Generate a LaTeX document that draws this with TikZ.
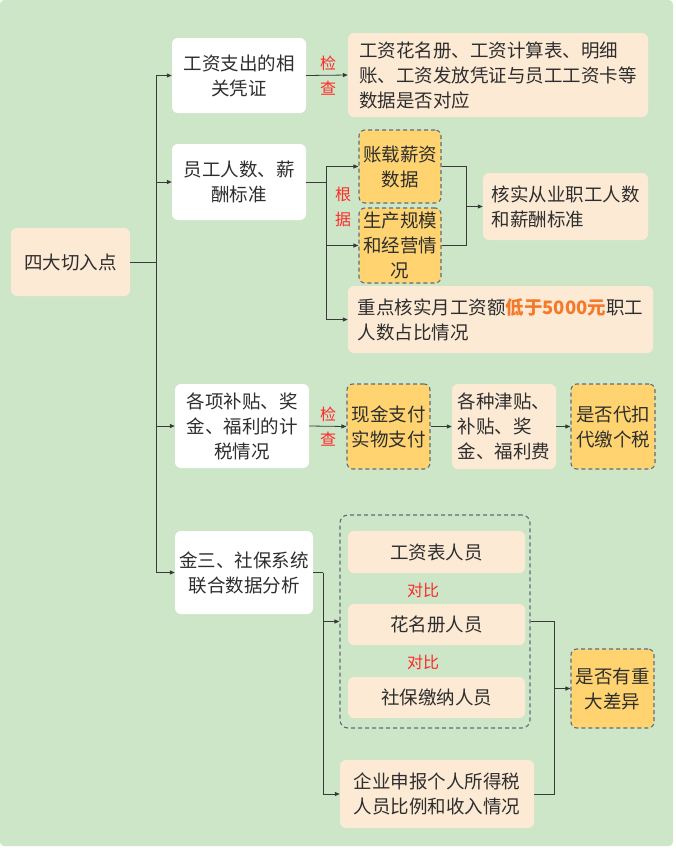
\documentclass[tikz,border=0pt]{standalone}
\usepackage{fontspec}
\setmainfont{Noto Sans CJK SC}
\usetikzlibrary{arrows.meta,calc}
\definecolor{bg}{HTML}{CDE6C7}
\definecolor{peach}{HTML}{FDEAD5}
\definecolor{orangebox}{HTML}{FFD470}
\definecolor{dashc}{HTML}{5A6E80}
\definecolor{txt}{HTML}{2E2E2E}
\definecolor{lred}{HTML}{FF2A2A}
\definecolor{hl}{HTML}{F5792A}
\definecolor{linec}{HTML}{3A3A3A}
\begin{document}
\begin{tikzpicture}[x=1pt,y=-1pt,
  base/.style={rounded corners=6pt, align=center, inner sep=2pt, text=txt,
    font=\fontsize{18.5}{25}\selectfont},
  wbox/.style={base, fill=white},
  pbox/.style={base, fill=peach},
  obox/.style={base, fill=orangebox, draw=dashc, dash pattern=on 4pt off 3pt, line width=1.1pt},
  grp/.style={rounded corners=8pt, draw=dashc, dash pattern=on 4pt off 3pt, line width=1.1pt},
  lbl/.style={text=lred, align=center, font=\fontsize{16}{25}\selectfont},
  conn/.style={draw=linec, line width=0.8pt},
  arr/.style={conn, -{Triangle[length=5pt,width=4pt]}}
]
\useasboundingbox (0,0) rectangle (676,849);
\fill[bg, rounded corners=4pt] (0,0) rectangle (673,846);

% left column
\node[pbox, minimum width=119pt, minimum height=68pt] (root) at (70.5,262) {四大切入点};
\node[wbox, minimum width=134pt, minimum height=75pt] (A1) at (239,75.5) {工资支出的相\\关凭证};
\node[wbox, minimum width=134pt, minimum height=76pt] (A2) at (239,182) {员工人数、薪\\酬标准};
\node[wbox, minimum width=134pt, minimum height=84pt] (A3) at (242,426) {各项补贴、奖\\金、福利的计\\税情况};
\node[wbox, minimum width=138pt, minimum height=83pt] (A4) at (244,572.5) {金三、社保系统\\联合数据分析};

% branch 1
\node[pbox, align=left, minimum width=300pt, minimum height=84pt] (B1) at (498,75) {工资花名册、工资计算表、明细\\账、工资发放凭证与员工工资卡等\\数据是否对应};

% branch 2
\node[obox, minimum width=82pt, minimum height=73pt] (C1) at (400,166.5) {账载薪资\\数据};
\node[obox, minimum width=82pt, minimum height=75pt] (C2) at (400,245.5) {生产规模\\和经营情\\况};
\node[pbox, align=left, minimum width=165pt, minimum height=67pt] (D1) at (565.5,206.5) {核实从业职工人数\\和薪酬标准};
\node[pbox, align=left, minimum width=305pt, minimum height=67pt] (E1) at (500.5,319.5) {重点核实月工资额\textcolor{hl}{\textbf{低于5000元}}职工\\人数占比情况};

% branch 3
\node[obox, minimum width=83pt, minimum height=85pt] (F1) at (388.5,426.5) {现金支付\\实物支付};
\node[pbox, align=left, minimum width=104pt, minimum height=85pt] (F2) at (504,426.5) {各种津贴、\\补贴、奖\\金、福利费};
\node[obox, minimum width=84pt, minimum height=85pt] (F3) at (613,426.5) {是否代扣\\代缴个税};

% branch 4
\node[grp, minimum width=190pt, minimum height=213pt] (G) at (435,621.5) {};
\node[pbox, minimum width=177pt, minimum height=42pt] (G1) at (436.5,552) {工资表人员};
\node[pbox, minimum width=177pt, minimum height=41pt] (G2) at (436.5,624.5) {花名册人员};
\node[pbox, minimum width=177pt, minimum height=41pt] (G3) at (436.5,697.5) {社保缴纳人员};
\node[lbl] (cmp1) at (423,590) {对比};
\node[lbl] (cmp2) at (423,662) {对比};
\node[pbox, minimum width=194pt, minimum height=68pt] (H1) at (437,794) {企业申报个人所得税\\人员比例和收入情况};
\node[obox, minimum width=83pt, minimum height=79pt] (H2) at (612.5,688.5) {是否有重\\大差异};

% labels
\node[lbl] (chk1) at (328,76) {检\\查};
\node[lbl] (gj) at (343,207) {根\\据};
\node[lbl] (chk2) at (328,427) {检\\查};

% trunk
\draw[conn] (root.east) -- (156,262) coordinate (tr);
\draw[arr] (tr) |- (A1.west);
\draw[arr] (tr) |- (A2.west);
\draw[arr] (tr) |- (A3.west);
\draw[arr] (tr) |- (A4.west);

% branch 1
\draw[arr] (A1.east) -- (B1.west);

% branch 2
\draw[conn] (A2.east) -- (326,182) coordinate (b2);
\draw[arr] (b2) |- (C1.west);
\draw[arr] (b2) |- (C2.west);
\draw[arr] (b2) |- (E1.west);
\coordinate (j1) at (466,206.5);
\draw[conn] (C1.east) -| (j1);
\draw[conn] (C2.east) -| (j1);
\draw[arr] (j1) -- (D1.west);

% branch 3
\draw[arr] (A3.east) -- (F1.west);
\draw[arr] (F1.east) -- (F2.west);
\draw[arr] (F2.east) -- (F3.west);

% branch 4
\draw[conn] (A4.east) -- (323,572.5) coordinate (b4);
\draw[arr] (b4) |- (G.west);
\draw[arr] (b4) |- (H1.west);
\coordinate (j2) at (554,688.5);
\draw[conn] (G.east) -| (j2);
\draw[conn] (H1.east) -| (j2);
\draw[arr] (j2) -- (H2.west);
\end{tikzpicture}
\end{document}
